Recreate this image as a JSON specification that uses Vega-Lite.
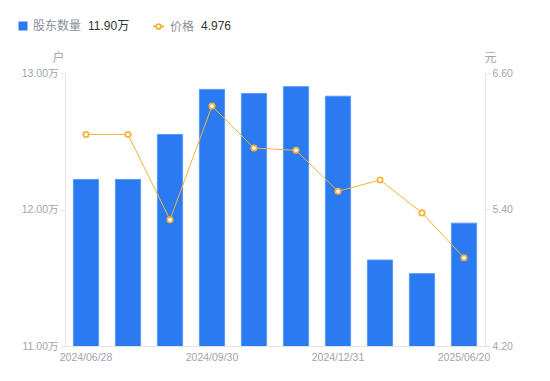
{
  "$schema": "https://vega.github.io/schema/vega-lite/v6.json",
  "autosize": {"type": "none"},
  "width": 420,
  "height": 273,
  "padding": {"left": 65, "top": 73, "right": 65, "bottom": 35},
  "background": "white",
  "config": {
    "view": {"stroke": null},
    "font": "Liberation Sans, Noto Sans CJK SC",
    "legend": {
      "title": null,
      "orient": "none",
      "labelFontSize": 12,
      "labelFont": "Liberation Sans, Noto Sans CJK SC",
      "padding": 0
    },
    "axis": {
      "labelColor": "#a0a4ae",
      "labelFontSize": 10.5,
      "labelFont": "Liberation Sans, Noto Sans CJK SC",
      "domainColor": "#e3e5ea",
      "tickColor": "#e3e5ea",
      "grid": false,
      "titleColor": "#a0a4ae",
      "titleFontSize": 12,
      "titleFontWeight": "normal",
      "titleFont": "Noto Sans CJK SC"
    }
  },
  "data": {
    "values": [
      {"date": "2024/06/28", "holders": 122200, "price": 6.06},
      {"date": "2024/07/31", "holders": 122200, "price": 6.06},
      {"date": "2024/08/30", "holders": 125500, "price": 5.31},
      {"date": "2024/09/30", "holders": 128800, "price": 6.31},
      {"date": "2024/10/31", "holders": 128500, "price": 5.94},
      {"date": "2024/11/29", "holders": 129000, "price": 5.92},
      {"date": "2024/12/31", "holders": 128300, "price": 5.56},
      {"date": "2025/03/31", "holders": 116300, "price": 5.66},
      {"date": "2025/04/30", "holders": 115300, "price": 5.37},
      {"date": "2025/06/20", "holders": 119000, "price": 4.976}
    ]
  },
  "encoding": {
    "x": {
      "field": "date",
      "type": "ordinal",
      "sort": null,
      "scale": {"paddingInner": 0.4, "paddingOuter": 0.2},
      "axis": {
        "title": null,
        "labelAngle": 0,
        "ticks": false,
        "labelPadding": 6,
        "values": ["2024/06/28", "2024/09/30", "2024/12/31", "2025/06/20"]
      }
    }
  },
  "layer": [
    {
      "mark": {"type": "bar", "clip": true, "stroke": "#5a97f5", "strokeWidth": 1},
      "encoding": {
        "y": {
          "field": "holders",
          "type": "quantitative",
          "scale": {"domain": [110000, 130000], "zero": false, "nice": false},
          "axis": {
            "values": [110000, 120000, 130000],
            "labelExpr": "format(datum.value / 10000, '.2f') + '万'",
            "tickSize": 5,
            "labelPadding": 2,
            "title": "户",
            "titleAngle": 0,
            "titleX": -7,
            "titleY": -16,
            "titleAlign": "center",
            "titleBaseline": "middle"
          }
        },
        "color": {
          "datum": "股东数量",
          "scale": {"domain": ["股东数量"], "range": ["#2a7af2"]},
          "legend": {
            "legendX": -48,
            "legendY": -53,
            "labelColor": "#8a8f9a",
            "labelOffset": 4,
            "symbolType": "square",
            "symbolSize": 81,
            "symbolStrokeWidth": 0
          }
        },
        "opacity": {
          "datum": "11.90万",
          "scale": {"domain": ["11.90万"], "range": [1, 1]},
          "legend": {
            "legendX": 11,
            "legendY": -53,
            "labelColor": "#333333",
            "labelOffset": 0,
            "symbolSize": 0,
            "symbolOpacity": 0
          }
        }
      }
    },
    {
      "encoding": {
        "y": {
          "field": "price",
          "type": "quantitative",
          "scale": {"domain": [4.2, 6.6], "zero": false, "nice": false},
          "axis": {
            "orient": "right",
            "values": [4.2, 5.4, 6.6],
            "format": ".2f",
            "tickSize": 5,
            "labelPadding": 2,
            "title": "元",
            "titleAngle": 0,
            "titleX": 5,
            "titleY": -16,
            "titleAlign": "center",
            "titleBaseline": "middle"
          }
        }
      },
      "layer": [
        {
          "mark": {"type": "line", "strokeWidth": 1},
          "encoding": {
            "stroke": {
              "datum": "价格",
              "scale": {"domain": ["价格"], "range": ["#f6b23c"]},
              "legend": {
                "legendX": 87,
                "legendY": -53,
                "labelColor": "#8a8f9a",
                "labelOffset": 5,
                "symbolType": "M-1,0L-0.45,0M0.45,0L1,0M-0.45,0A0.45,0.45 0 1,0 0.45,0A0.45,0.45 0 1,0 -0.45,0Z",
                "symbolSize": 121,
                "symbolStrokeWidth": 1.8,
                "symbolFillColor": "#ffffff"
              }
            }
          }
        },
        {
          "mark": {"type": "point", "filled": false, "fill": "#ffffff", "stroke": "#f6b23c", "size": 28, "strokeWidth": 1.8, "opacity": 1},
          "encoding": {
            "shape": {
              "datum": "4.976",
              "scale": {"domain": ["4.976"], "range": ["circle"]},
              "legend": {
                "legendX": 124,
                "legendY": -53,
                "labelColor": "#333333",
                "labelOffset": 0,
                "symbolSize": 0,
                "symbolOpacity": 0,
                "symbolStrokeWidth": 0
              }
            }
          }
        }
      ]
    }
  ],
  "resolve": {"scale": {"y": "independent"}}
}
